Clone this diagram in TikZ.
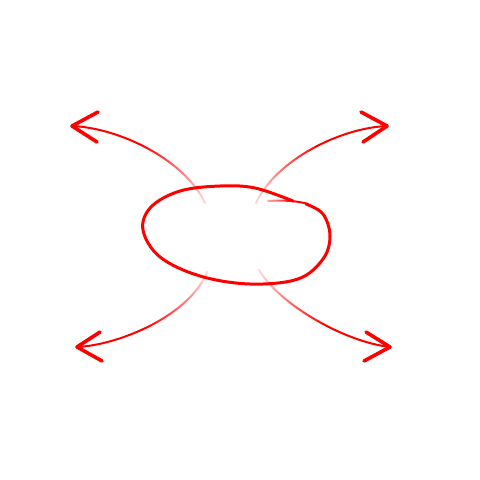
\documentclass[tikz,border=0pt]{standalone}
\usetikzlibrary{fadings}
\definecolor{swapred}{RGB}{255,0,0}
\pgfdeclarehorizontalshading{tipshade}{100bp}{color(0bp)=(black); color(20bp)=(black!80); color(55bp)=(white); color(100bp)=(white)}
\pgfdeclarefading{tipfade}{\pgfuseshading{tipshade}}
\tikzset{
  ring/.style={swapred,line width=3pt,line cap=round,line join=round},
  stem/.style={swapred,line width=2pt,line cap=round,path fading=tipfade},
  barb/.style={swapred,line width=3.6pt,line cap=round,line join=round},
}
\begin{document}
\begin{tikzpicture}[x=1pt,y=-1pt]
  \useasboundingbox (0,0) rectangle (480,480);
  \coordinate (nw) at (72,126);
  \coordinate (ne) at (387,126);
  \coordinate (sw) at (77,347);
  \coordinate (se) at (390,347);
  \coordinate (nwfoot) at (205,203);
  \coordinate (nefoot) at (256,203);
  \coordinate (swfoot) at (207,272);
  \coordinate (sefoot) at (259,270);
  \draw[ring] plot[smooth,tension=0.6] coordinates {(293,201) (255,188) (220,186) (180,191) (151,207) (143,230) (160,257) (200,276) (250,284) (298,279) (323,259) (330,236) (323,214) (306,204)};
  \draw[ring,line width=2pt,path fading=tipfade] (268,201) .. controls (285,200) and (298,201) .. (308,204);
  \draw[stem,fading angle=150] (nwfoot) .. controls (185,160) and (120,128) .. (nw);
  \draw[stem,fading angle=30] (nefoot) .. controls (276,160) and (340,128) .. (ne);
  \draw[stem,fading angle=210] (swfoot) .. controls (190,315) and (120,345) .. (sw);
  \draw[stem,fading angle=-30] (sefoot) .. controls (280,305) and (345,342) .. (se);
  \draw[barb] (98,112) -- (nw) -- (97,142);
  \draw[barb] (361,112) -- (ne) -- (363,142);
  \draw[barb] (100,332) -- (sw) -- (102,361);
  \draw[barb] (366,332) -- (se) -- (364,361);
\end{tikzpicture}
\end{document}
